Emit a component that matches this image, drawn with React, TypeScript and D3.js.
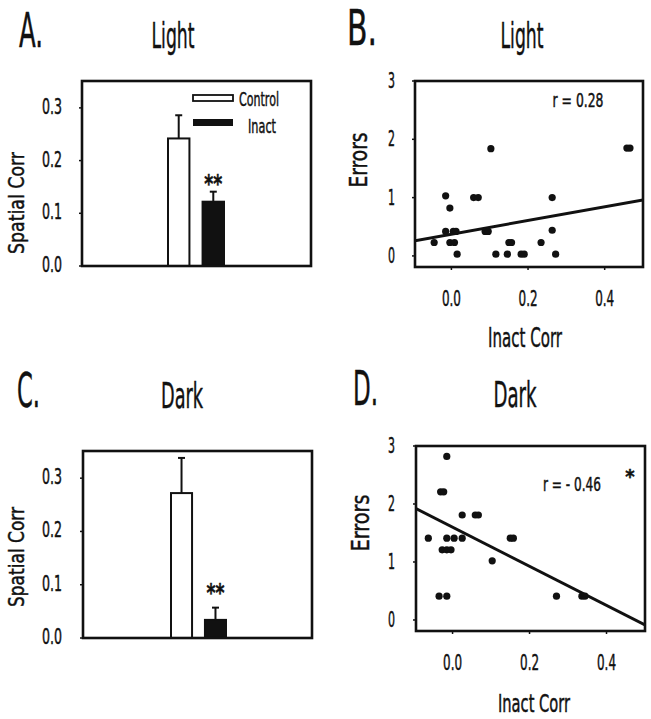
import React from "react";
import * as d3 from "d3";

// ---------- Data ----------
const barCategories = ["Control", "Inact"];
const lightMeans = [0.242, 0.122];
const lightErrs = [0.044, 0.019];
const darkMeans = [0.272, 0.034];
const darkErrs = [0.066, 0.023];
const barTicks = [0.0, 0.1, 0.2, 0.3];

const scatterXTicks = [0.0, 0.2, 0.4];
const scatterYTicks = [0, 1, 2, 3];

const lightX = [-0.015, 0.058, 0.07, 0.263, -0.004, -0.015, 0.005, 0.012, 0.088, 0.096, 0.263, -0.045, -0.004, 0.008, 0.15, 0.157, 0.234, 0.015, 0.116, 0.146, 0.182, 0.19, 0.272, 0.103, 0.458, 0.466];
const lightY = [1.03, 1.0, 1.0, 1.0, 0.82, 0.42, 0.42, 0.42, 0.42, 0.42, 0.44, 0.23, 0.23, 0.23, 0.23, 0.23, 0.23, 0.03, 0.03, 0.03, 0.03, 0.03, 0.03, 1.84, 1.85, 1.85];
const lightFit = [0.373, 1.173]; // intercept, slope

const darkX = [-0.015, -0.031, -0.023, 0.025, 0.059, 0.067, -0.063, -0.015, 0.004, 0.025, 0.15, 0.158, -0.027, -0.015, -0.004, 0.103, -0.035, -0.015, 0.27, 0.336, 0.344];
const darkY = [2.82, 2.21, 2.21, 1.81, 1.81, 1.81, 1.41, 1.41, 1.41, 1.41, 1.41, 1.41, 1.21, 1.21, 1.21, 1.02, 0.41, 0.41, 0.41, 0.41, 0.41];
const darkFit = [1.6, -3.37];

const FONT = "'Liberation Sans Narrow','DejaVu Sans Condensed','Liberation Sans',sans-serif";

type TProps = {
  x: number; y: number; size: number; w?: number; anchor?: string; rotate?: number; children: React.ReactNode; weight?: string;
};
const T = ({ x, y, size, w, anchor = "start", rotate, children, weight }: TProps) => (
  <text
    x={rotate ? 0 : x}
    y={rotate ? 0 : y}
    transform={rotate ? `translate(${x},${y}) rotate(${rotate})` : undefined}
    fontSize={size}
    fontFamily={FONT}
    textAnchor={anchor}
    fontWeight={weight}
    textLength={w}
    lengthAdjust={w ? "spacingAndGlyphs" : undefined}
    fill="#111"
    stroke="#111"
    strokeWidth={0.45}
  >
    {children}
  </text>
);

type BarProps = {
  frame: { x0: number; x1: number; y0: number; y1: number };
  band: [number, number];
  means: number[];
  errs: number[];
  legend: boolean;
  starY: number;
};

const BarPanel = ({ frame, band, means, errs, legend, starY }: BarProps) => {
  const y = d3.scaleLinear().domain([0, 0.351]).range([frame.y1, frame.y0]);
  const x = d3.scaleBand().domain(barCategories).range(band).paddingInner(0.38).paddingOuter(0);
  const bw = x.bandwidth();
  return (
    <g>
      {barCategories.map((c, i) => {
        const bx = x(c)!;
        const top = y(means[i]);
        const et = y(means[i] + errs[i]);
        return (
          <g key={c}>
            <line x1={bx + bw / 2} x2={bx + bw / 2} y1={top} y2={et} stroke="#111" strokeWidth={2} />
            <line x1={bx + bw / 2 - 3.5} x2={bx + bw / 2 + 3.5} y1={et} y2={et} stroke="#111" strokeWidth={2} />
            <rect x={bx} y={top} width={bw} height={y(0) - top} fill={i === 0 ? "#fff" : "#111"} stroke="#111" strokeWidth={2} />
          </g>
        );
      })}
      <T x={x("Inact")! + bw / 2} y={starY} size={24} anchor="middle" w={18} weight="bold">**</T>
      <rect x={frame.x0} y={frame.y0} width={frame.x1 - frame.x0} height={frame.y1 - frame.y0} fill="none" stroke="#111" strokeWidth={2.6} />
      {barTicks.map((t) => (
        <g key={t}>
          <line x1={frame.x0 - 3} x2={frame.x0} y1={y(t)} y2={y(t)} stroke="#111" strokeWidth={1.5} />
          <T x={62} y={y(t) + 6} size={21} anchor="end" w={20}>{d3.format(".1f")(t)}</T>
        </g>
      ))}
      {legend && (
        <g>
          <rect x={193} y={95} width={40} height={6} fill="#fff" stroke="#111" strokeWidth={1.8} />
          <rect x={193} y={119} width={40} height={7} fill="#111" />
          <T x={239} y={106} size={19} w={40}>Control</T>
          <T x={248} y={133} size={19} w={28}>Inact</T>
        </g>
      )}
    </g>
  );
};

type ScatterProps = {
  frame: { x0: number; x1: number; y0: number; y1: number };
  xs: number[];
  ys: number[];
  fit: number[];
};

const ScatterPanel = ({ frame, xs, ys, fit }: ScatterProps) => {
  const x = d3.scaleLinear().domain([-0.095, 0.5]).range([frame.x0, frame.x1]);
  const y = d3.scaleLinear().domain([-0.19, 3]).range([frame.y1, frame.y0]);
  const [xa, xb] = x.domain();
  const line = d3.line<number>().x((d) => x(d)).y((d) => y(fit[0] + fit[1] * d));
  return (
    <g>
      <defs>
        <clipPath id={`clip${frame.y0}`}>
          <rect x={frame.x0} y={frame.y0} width={frame.x1 - frame.x0} height={frame.y1 - frame.y0} />
        </clipPath>
      </defs>
      <path d={line([xa, xb])!} stroke="#111" strokeWidth={3} fill="none" clipPath={`url(#clip${frame.y0})`} />
      {xs.map((v, i) => (
        <circle key={i} cx={x(v)} cy={y(ys[i])} r={3.6} fill="#111" />
      ))}
      <rect x={frame.x0} y={frame.y0} width={frame.x1 - frame.x0} height={frame.y1 - frame.y0} fill="none" stroke="#111" strokeWidth={2.6} />
      {scatterYTicks.map((t) => (
        <g key={t}>
          <line x1={frame.x0 - 3} x2={frame.x0} y1={y(t)} y2={y(t)} stroke="#111" strokeWidth={1.5} />
          <T x={395} y={y(t) + 7} size={21} anchor="end" w={7}>{t}</T>
        </g>
      ))}
      {scatterXTicks.map((t) => (
        <g key={t}>
          <line x1={x(t)} x2={x(t)} y1={frame.y1} y2={frame.y1 + 3} stroke="#111" strokeWidth={1.5} />
          <T x={x(t)} y={frame.y1 + 39} size={21} anchor="middle" w={19}>{d3.format(".1f")(t)}</T>
        </g>
      ))}
    </g>
  );
};

export default function App() {
  return (
    <svg width={651} height={719} style={{ position: "absolute", left: 0, top: 0, background: "#fff" }}>
      <rect width={651} height={719} fill="#fff" />
      {/* Panel A */}
      <T x={19} y={47} size={48} w={24}>A.</T>
      <T x={173} y={48} size={36} anchor="middle" w={43}>Light</T>
      <T x={24} y={203} size={22} anchor="middle" rotate={-90} w={102}>Spatial Corr</T>
      <BarPanel frame={{ x0: 82, x1: 311, y0: 81, y1: 266 }} band={[168, 224]} means={lightMeans} errs={lightErrs} legend={true} starY={192} />

      {/* Panel B */}
      <T x={347} y={45} size={50} w={30}>B.</T>
      <T x={522} y={48} size={36} anchor="middle" w={43}>Light</T>
      <T x={367} y={160} size={25} anchor="middle" rotate={-90} w={55}>Errors</T>
      <ScatterPanel frame={{ x0: 415, x1: 643, y0: 81, y1: 267 }} xs={lightX} ys={lightY} fit={lightFit} />
      <T x={578} y={107} size={19} anchor="middle" w={51}>r = 0.28</T>
      <T x={525} y={347} size={26} anchor="middle" w={74}>Inact Corr</T>

      {/* Panel C */}
      <T x={17} y={407} size={48} w={23}>C.</T>
      <T x={182} y={408} size={36} anchor="middle" w={42}>Dark</T>
      <T x={24} y={557} size={22} anchor="middle" rotate={-90} w={100}>Spatial Corr</T>
      <BarPanel frame={{ x0: 83, x1: 312, y0: 451, y1: 638 }} band={[171, 226]} means={darkMeans} errs={darkErrs} legend={false} starY={601} />

      {/* Panel D */}
      <T x={353} y={405} size={48} w={25}>D.</T>
      <T x={515} y={407} size={36} anchor="middle" w={43}>Dark</T>
      <T x={369} y={523} size={25} anchor="middle" rotate={-90} w={57}>Errors</T>
      <ScatterPanel frame={{ x0: 416, x1: 645, y0: 446, y1: 631 }} xs={darkX} ys={darkY} fit={darkFit} />
      <T x={572} y={491} size={19} anchor="middle" w={58}>r = - 0.46</T>
      <T x={630} y={483} size={20} anchor="middle" weight="bold">*</T>
      <T x={534} y={712} size={24} anchor="middle" w={72}>Inact Corr</T>
    </svg>
  );
}
